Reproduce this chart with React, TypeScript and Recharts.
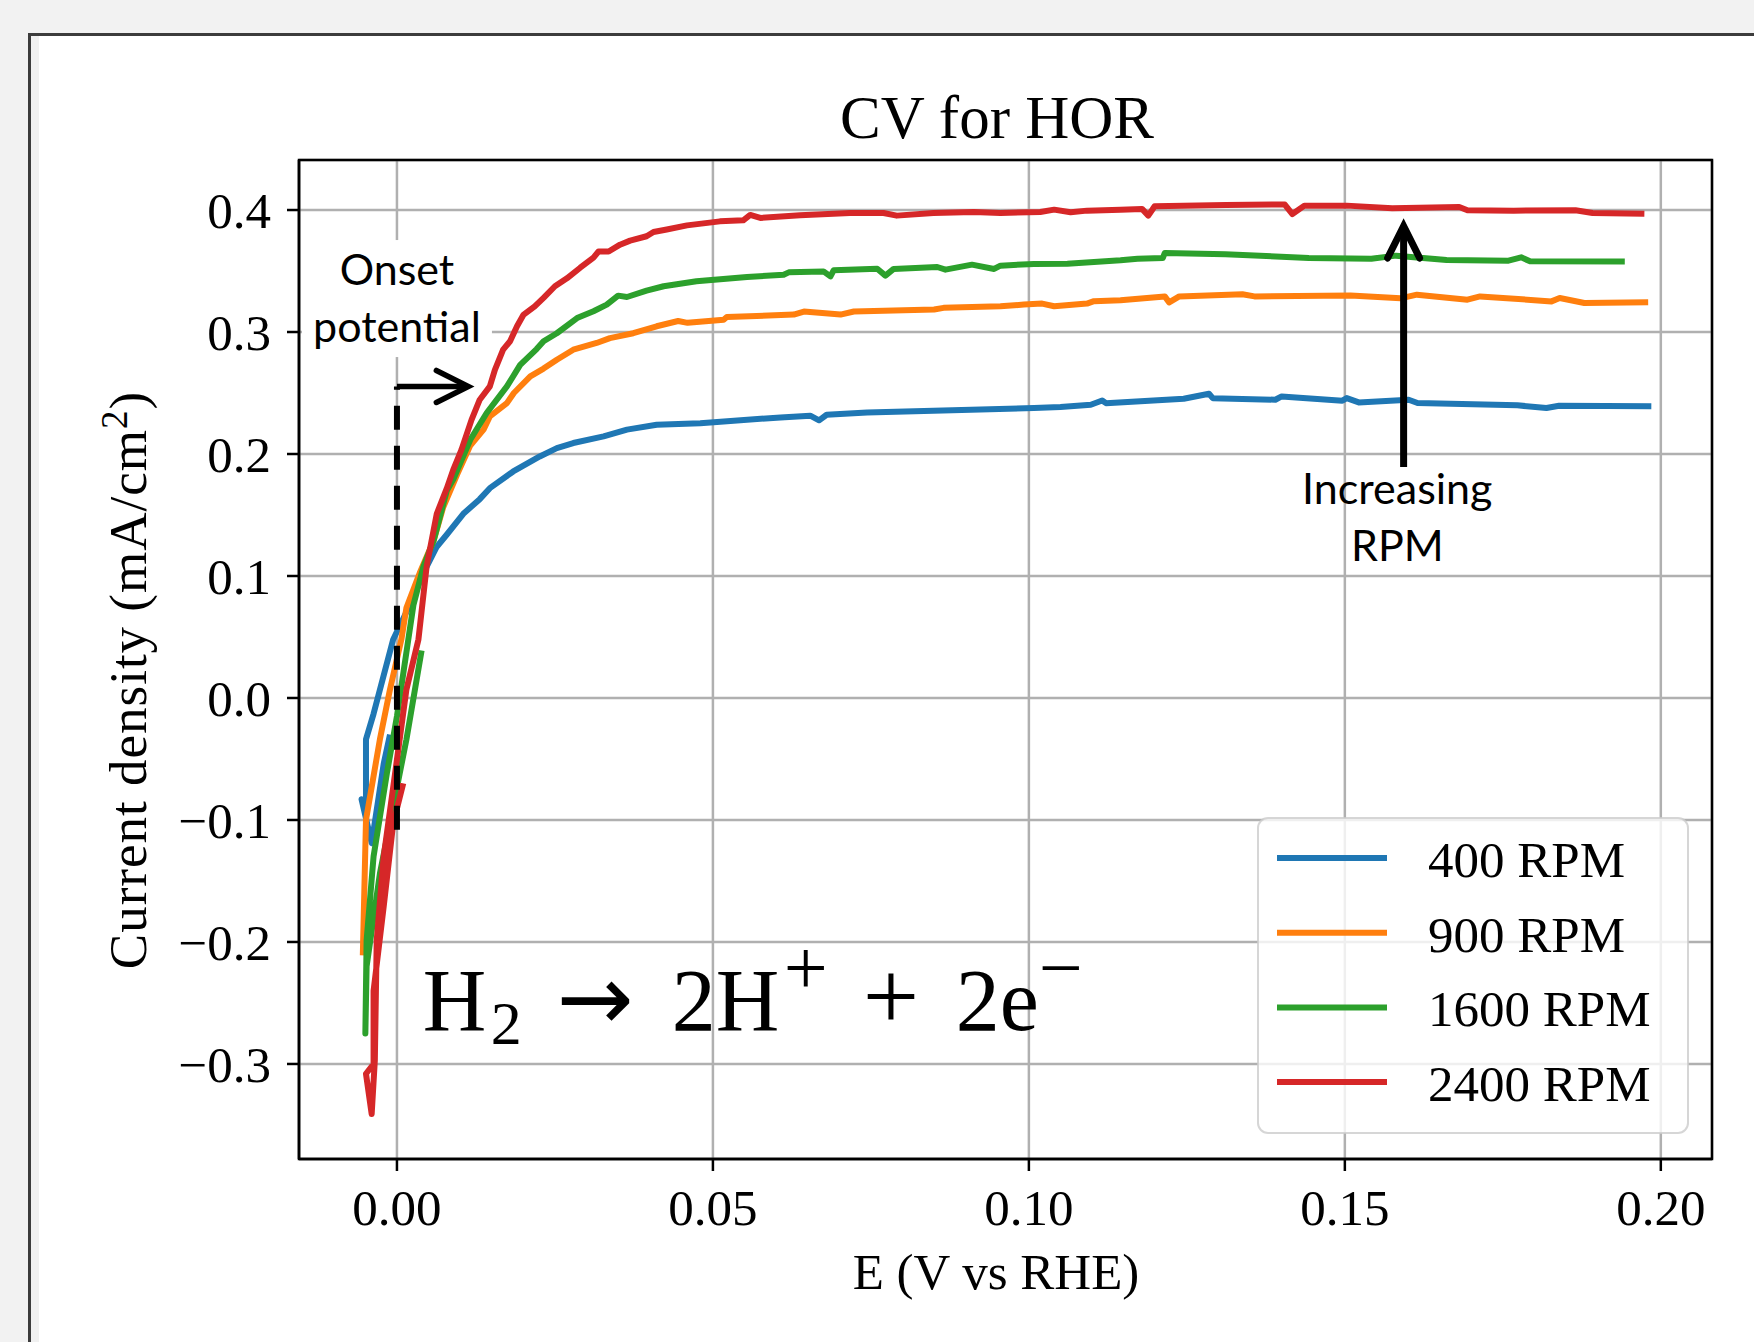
import React from 'react';
import {
  LineChart,
  Line,
  XAxis,
  YAxis,
  CartesianGrid,
  ReferenceLine,
  ReferenceDot,
  ReferenceArea,
} from 'recharts';

// series meta
const SERIES_NAMES = ['400 RPM', '900 RPM', '1600 RPM', '2400 RPM'];
const COLORS = ['#1f77b4', '#ff7f0e', '#2ca02c', '#d62728'];

// axes
const X_TICKS = [0, 0.05, 0.1, 0.15, 0.2];
const Y_TICKS = [-0.3, -0.2, -0.1, 0, 0.1, 0.2, 0.3, 0.4];
const X_DOMAIN = [-0.0155, 0.2081];
const Y_DOMAIN = [-0.3779, 0.441];

// 400 RPM
const e400 = [-0.0011, -0.0021, -0.004, -0.0056, -0.0049, -0.0049, -0.0037, -0.0006, 0.0015, 0.0042, 0.0063, 0.0079, 0.0105, 0.0131, 0.0147, 0.0184, 0.0226, 0.0253, 0.0279, 0.0327, 0.0364, 0.0411, 0.048, 0.0607, 0.0654, 0.0668, 0.068, 0.0744, 0.0849, 0.1008, 0.105, 0.1098, 0.1116, 0.1122, 0.1245, 0.1285, 0.1291, 0.139, 0.14, 0.1496, 0.1503, 0.1522, 0.1601, 0.1615, 0.1773, 0.1819, 0.1839, 0.1985];
const j400 = [-0.03, -0.054, -0.119, -0.083, -0.086, -0.034, -0.013, 0.048, 0.0705, 0.1025, 0.124, 0.134, 0.151, 0.163, 0.172, 0.1857, 0.198, 0.2048, 0.209, 0.2144, 0.22, 0.224, 0.2253, 0.23, 0.2314, 0.2276, 0.2322, 0.2341, 0.2355, 0.2377, 0.2385, 0.2404, 0.2439, 0.2417, 0.2453, 0.2494, 0.2458, 0.2445, 0.2472, 0.2437, 0.2458, 0.2423, 0.2445, 0.2418, 0.2399, 0.2377, 0.2396, 0.2391];

// 900 RPM
const e900 = [-0.0054, -0.0049, -0.0027, -0.0011, 0.0007, 0.0015, 0.0036, 0.0058, 0.0073, 0.0095, 0.0116, 0.0137, 0.0147, 0.0174, 0.0185, 0.0211, 0.0232, 0.0253, 0.0279, 0.0316, 0.0337, 0.0374, 0.0411, 0.0445, 0.046, 0.0517, 0.0522, 0.0628, 0.0644, 0.0702, 0.0723, 0.085, 0.0865, 0.0955, 0.0992, 0.1021, 0.104, 0.1092, 0.1103, 0.1145, 0.1215, 0.1222, 0.1238, 0.1338, 0.1357, 0.1509, 0.1588, 0.1614, 0.1694, 0.1714, 0.1827, 0.184, 0.1879, 0.198];
const j900 = [-0.211, -0.1, -0.034, 0.007, 0.048, 0.074, 0.1025, 0.129, 0.156, 0.183, 0.207, 0.22, 0.2308, 0.2417, 0.25, 0.2636, 0.27, 0.2773, 0.2855, 0.291, 0.295, 0.299, 0.3047, 0.309, 0.3075, 0.3101, 0.3123, 0.3143, 0.3168, 0.3143, 0.3168, 0.3184, 0.3198, 0.3211, 0.3225, 0.3233, 0.3211, 0.3233, 0.3253, 0.326, 0.3292, 0.3243, 0.3292, 0.3309, 0.3292, 0.33, 0.3276, 0.3306, 0.3265, 0.3292, 0.3251, 0.3279, 0.3238, 0.3243];

// 1600 RPM
const e1600 = [0.0039, 0.0015, -0.0006, -0.0027, -0.0048, -0.005, -0.0048, -0.0037, -0.0016, 0, 0.0018, 0.0026, 0.0042, 0.0058, 0.0079, 0.0089, 0.0116, 0.0142, 0.0174, 0.0195, 0.0221, 0.0232, 0.0253, 0.0285, 0.0311, 0.0332, 0.035, 0.0364, 0.0395, 0.0422, 0.0474, 0.0554, 0.0612, 0.062, 0.0675, 0.0686, 0.0691, 0.076, 0.0773, 0.0786, 0.0855, 0.0868, 0.091, 0.0945, 0.0955, 0.1008, 0.1061, 0.1145, 0.1172, 0.1212, 0.1215, 0.1311, 0.1443, 0.1542, 0.1581, 0.1661, 0.1759, 0.1779, 0.1793, 0.1943];
const j1600 = [0.039, -0.034, -0.089, -0.144, -0.22, -0.275, -0.1985, -0.13, -0.062, -0.015, 0.048, 0.076, 0.108, 0.129, 0.17, 0.179, 0.2117, 0.2336, 0.2554, 0.273, 0.286, 0.2924, 0.299, 0.3114, 0.317, 0.3224, 0.3298, 0.3287, 0.3339, 0.3375, 0.3416, 0.3451, 0.347, 0.3489, 0.3497, 0.3456, 0.3506, 0.3519, 0.3462, 0.3517, 0.3533, 0.3511, 0.3552, 0.3517, 0.3544, 0.3558, 0.356, 0.3588, 0.3601, 0.3607, 0.3648, 0.3637, 0.3607, 0.3601, 0.3626, 0.359, 0.3585, 0.3612, 0.358, 0.3577];

// 2400 RPM
const e2400 = [0.001, -0.0006, -0.0021, -0.0037, -0.0037, -0.0049, -0.004, -0.0035, -0.0032, -0.0021, -0.0003, 0.0015, 0.0034, 0.0047, 0.0063, 0.0079, 0.0089, 0.0102, 0.0118, 0.0131, 0.0147, 0.0155, 0.0168, 0.0179, 0.019, 0.02, 0.0218, 0.0232, 0.025, 0.0269, 0.029, 0.0311, 0.0319, 0.0335, 0.0353, 0.0369, 0.0395, 0.0406, 0.0427, 0.0459, 0.0511, 0.0548, 0.0559, 0.0575, 0.0638, 0.0717, 0.077, 0.0791, 0.0849, 0.0913, 0.0955, 0.1018, 0.104, 0.1066, 0.1092, 0.1145, 0.1179, 0.1189, 0.1199, 0.1312, 0.1405, 0.1417, 0.1436, 0.1503, 0.1575, 0.1681, 0.1694, 0.1767, 0.1865, 0.1892, 0.1974];
const j2400 = [-0.07, -0.103, -0.171, -0.24, -0.3, -0.308, -0.341, -0.297, -0.1985, -0.13, -0.062, 0.007, 0.048, 0.108, 0.151, 0.172, 0.187, 0.2034, 0.228, 0.2445, 0.2554, 0.269, 0.2855, 0.2924, 0.3047, 0.314, 0.321, 0.328, 0.3375, 0.344, 0.3527, 0.361, 0.366, 0.366, 0.3716, 0.3749, 0.3785, 0.382, 0.384, 0.3874, 0.3907, 0.3916, 0.396, 0.3935, 0.3957, 0.3976, 0.3976, 0.3954, 0.3976, 0.3984, 0.3976, 0.3984, 0.4003, 0.3981, 0.3995, 0.4003, 0.4009, 0.3954, 0.4031, 0.4042, 0.4045, 0.3967, 0.4036, 0.4036, 0.4014, 0.4025, 0.3998, 0.3995, 0.3998, 0.3976, 0.397];

// annotation anchors (data coords)
const ONSET_E = 0;
const ONSET_BOTTOM = -0.108;
const ONSET_TOP = 0.2554;
const ONSET_TIP = 0.0113;
const RPM_ARROW_E = 0.1593;
const RPM_ARROW_FROM = 0.1893;
const RPM_ARROW_TO = 0.3869;

const SERIF = "'Liberation Serif', 'DejaVu Serif', serif";
const SANS = "Lato, 'Open Sans', sans-serif";
const LINE_W = 6;

const toPoints = (e: number[], j: number[]) => e.map((x, i) => ({ E: x, j: j[i] }));
const SERIES = [toPoints(e400, j400), toPoints(e900, j900), toPoints(e1600, j1600), toPoints(e2400, j2400)];

const fmtY = (v: number) => (v < -1e-9 ? '\u2212' : '') + Math.abs(v).toFixed(1);

// line with an open chevron head at (x2, y2)
const arrowShape = (w: number) => (p: any) => {
  const { x1, y1, x2, y2 } = p;
  const dx = x2 - x1;
  const dy = y2 - y1;
  const L = Math.hypot(dx, dy) || 1;
  const ux = dx / L;
  const uy = dy / L;
  const bx = x2 - ux * 32;
  const by = y2 - uy * 32;
  return (
    <g>
      <line x1={x1} y1={y1} x2={x2 - ux * 3} y2={y2 - uy * 3} stroke="#000" strokeWidth={w} />
      <polyline
        points={`${bx - uy * 16},${by + ux * 16} ${x2},${y2} ${bx + uy * 16},${by - ux * 16}`}
        fill="none"
        stroke="#000"
        strokeWidth={w}
        strokeLinecap="round"
        strokeLinejoin="miter"
      />
    </g>
  );
};

const OnsetLabel = (p: any) => (
  <g>
    <rect x={p.cx - 95} y={p.cy - 45} width={190} height={117} fill="#fff" />
    <text x={p.cx} y={p.cy} textAnchor="middle" fontFamily={SANS} fontSize={43} fill="#000">Onset</text>
    <text x={p.cx} y={p.cy + 57} textAnchor="middle" fontFamily={SANS} fontSize={43} fill="#000">potential</text>
  </g>
);

const RpmLabel = (p: any) => (
  <g>
    <text x={p.cx} y={p.cy} textAnchor="middle" fontFamily={SANS} fontSize={43} fill="#000">Increasing</text>
    <text x={p.cx} y={p.cy + 57} textAnchor="middle" fontFamily={SANS} fontSize={43} fill="#000">RPM</text>
  </g>
);

const Equation = (p: any) => {
  const x = p.cx;
  const y = p.cy;
  const t = { fontFamily: SERIF, fill: '#000' };
  return (
    <g>
      <text x={x} y={y} fontSize={88} {...t}>H</text>
      <text x={x + 68} y={y + 14} fontSize={62} {...t}>2</text>
      <text x={x + 134} y={y} fontSize={92} fontFamily="'DejaVu Sans', sans-serif" fill="#000">{'\u2192'}</text>
      <text x={x + 249} y={y} fontSize={88} {...t}>2H</text>
      <text x={x + 361} y={y - 36} fontSize={78} {...t}>+</text>
      <text x={x + 440} y={y} fontSize={100} {...t}>+</text>
      <text x={x + 533} y={y} fontSize={88} {...t}>2e</text>
      <text x={x + 616} y={y - 36} fontSize={78} {...t}>{'\u2212'}</text>
    </g>
  );
};

export default function App() {
  const axisTick = { fontFamily: SERIF, fontSize: 51, fill: '#000' };
  return (
    <div style={{ position: 'absolute', left: 0, top: 0, width: 1754, height: 1342, background: '#f2f2f2', overflow: 'hidden' }}>
      <div
        style={{
          position: 'absolute',
          left: 28,
          top: 33,
          right: 0,
          bottom: 0,
          background: '#fff',
          borderTop: '3px solid #3c3c3c',
          borderLeft: '3px solid #3c3c3c',
        }}
      >
        <div style={{ position: 'absolute', left: 0, top: 0, bottom: 0, width: 8, background: '#f0f0f0' }} />
      </div>

      <div style={{ position: 'absolute', left: 0, top: 0 }}>
        <LineChart width={1754} height={1342} margin={{ top: 160, right: 42, bottom: 83, left: 99 }}>
          <CartesianGrid stroke="#b0b0b0" strokeWidth={2.5} />
          <XAxis
            type="number"
            dataKey="E"
            domain={X_DOMAIN}
            ticks={X_TICKS}
            interval={0}
            allowDataOverflow
            tickFormatter={(v: number) => v.toFixed(2)}
            tick={axisTick}
            tickSize={12}
            tickMargin={18}
            tickLine={{ stroke: '#000', strokeWidth: 2.5 }}
            axisLine={{ stroke: '#000', strokeWidth: 2.5 }}
            height={100}
          />
          <YAxis
            type="number"
            domain={Y_DOMAIN}
            ticks={Y_TICKS}
            interval={0}
            allowDataOverflow
            tickFormatter={fmtY}
            tick={axisTick}
            tickSize={12}
            tickMargin={16}
            tickLine={{ stroke: '#000', strokeWidth: 2.5 }}
            axisLine={{ stroke: '#000', strokeWidth: 2.5 }}
            width={200}
          />
          {SERIES.map((pts, i) => (
            <Line
              key={SERIES_NAMES[i]}
              data={pts}
              dataKey="j"
              name={SERIES_NAMES[i]}
              type="linear"
              stroke={COLORS[i]}
              strokeWidth={LINE_W}
              strokeLinejoin="round"
              dot={false}
              activeDot={false}
              isAnimationActive={false}
            />
          ))}
          <ReferenceDot x={0} y={0.3385} r={1} shape={OnsetLabel} zIndex={1500} />
          <ReferenceLine
            segment={[{ x: ONSET_E, y: ONSET_BOTTOM }, { x: ONSET_E, y: ONSET_TOP }]}
            stroke="#000"
            strokeWidth={6}
            strokeDasharray="24 16"
            zIndex={1500}
          />
          <ReferenceLine
            segment={[{ x: ONSET_E, y: ONSET_TOP }, { x: ONSET_TIP, y: ONSET_TOP }]}
            shape={arrowShape(5.5)}
            zIndex={1500}
          />
          <ReferenceLine
            segment={[{ x: RPM_ARROW_E, y: RPM_ARROW_FROM }, { x: RPM_ARROW_E, y: RPM_ARROW_TO }]}
            shape={arrowShape(7)}
            zIndex={1500}
          />
          <ReferenceDot x={0.1583} y={0.159} r={1} shape={RpmLabel} zIndex={1500} />
          <ReferenceDot x={0.0041} y={-0.272} r={1} shape={Equation} zIndex={1500} />
          <ReferenceArea
            x1={X_DOMAIN[0]}
            x2={X_DOMAIN[1]}
            y1={Y_DOMAIN[0]}
            y2={Y_DOMAIN[1]}
            fill="none"
            fillOpacity={0}
            stroke="#000"
            strokeWidth={2.5}
            ifOverflow="visible"
            zIndex={1500}
          />
        </LineChart>
      </div>

      <svg width={1754} height={1342} style={{ position: 'absolute', left: 0, top: 0, pointerEvents: 'none' }}>
        <text x={997} y={138} textAnchor="middle" fontFamily={SERIF} fontSize={61} fill="#000">CV for HOR</text>
        <text x={996} y={1289} textAnchor="middle" fontFamily={SERIF} fontSize={51} fill="#000">E (V vs RHE)</text>
        <text x={146} y={680} textAnchor="middle" transform="rotate(-90 146 680)" fontFamily={SERIF} fontSize={53} letterSpacing={1} fill="#000">
          Current density (mA/cm<tspan dy={-19} fontSize={37}>2</tspan><tspan dy={19}>)</tspan>
        </text>
        <rect x={1258} y={818} width={430} height={315} rx={10} fill="#fff" fillOpacity={0.8} stroke="#cccccc" strokeOpacity={0.8} strokeWidth={2} />
        {SERIES_NAMES.map((name, i) => (
          <g key={name}>
            <line x1={1277} x2={1387} y1={858 + 74.7 * i} y2={858 + 74.7 * i} stroke={COLORS[i]} strokeWidth={LINE_W} />
            <text x={1428} y={877 + 74.7 * i} fontFamily={SERIF} fontSize={51} fill="#000">{name}</text>
          </g>
        ))}
      </svg>
    </div>
  );
}
